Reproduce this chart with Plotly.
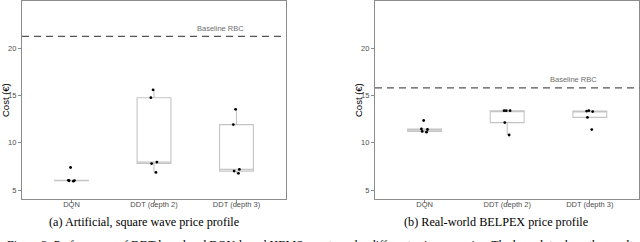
import plotly.graph_objects as go

categories = ["DQN", "DDT (depth 2)", "DDT (depth 3)"]

# (a) Artificial, square wave price profile
art_dqn = [5.93, 5.98, 6.00, 6.03, 7.38]
art_ddt2 = [6.86, 7.80, 7.95, 14.76, 15.60]
art_ddt3 = [6.76, 7.00, 7.18, 11.92, 13.53]
art_baseline = 21.24

# (b) Real-world BELPEX price profile
real_dqn = [11.12, 11.20, 11.40, 11.45, 12.35]
real_ddt2 = [10.82, 12.13, 13.39, 13.39, 13.39]
real_ddt3 = [11.39, 12.68, 13.30, 13.35, 13.40]
real_baseline = 15.81

y_ticks = [5, 10, 15, 20]
y_range = [4.05, 25.03]

captions = ["(a) Artificial, square wave price profile", "(b) Real-world BELPEX price profile"]
figure_text = ("Figure 3: Performance of DDT-based and DQN-based HEMS agents under different price scenarios. "
               "The box plots show the results of five runs.")

W, H = 640, 242
fig = go.Figure()

panels = [
    ("x", "y", [art_dqn, art_ddt2, art_ddt3], art_baseline),
    ("x2", "y2", [real_dqn, real_ddt2, real_ddt3], real_baseline),
]

for xa, ya, series, base in panels:
    for cat, vals in zip(categories, series):
        fig.add_trace(go.Box(
            x=[cat] * len(vals), y=vals, xaxis=xa, yaxis=ya,
            boxpoints="all", jitter=0.22, pointpos=0, width=0.41, whiskerwidth=0,
            quartilemethod="inclusive",
            fillcolor="rgba(255,255,255,0)",
            line=dict(color="#c4c4c4", width=1.1),
            marker=dict(color="black", size=2.8),
            showlegend=False, hoverinfo="y",
        ))
    fig.add_shape(type="line", xref=f"{xa} domain", yref=ya, x0=0, x1=1, y0=base, y1=base,
                  line=dict(color="#555555", width=1.3, dash="7px,5px"))
    fig.add_annotation(x=1.8, y=base + 0.85, xref=xa, yref=ya, text="Baseline RBC",
                       showarrow=False, font=dict(family="Liberation Sans", size=7.5, color="#6e6e6e"))

axis_common = dict(showline=True, mirror=True, linecolor="#8c8c8c", linewidth=1.2,
                   ticks="outside", ticklen=3, tickcolor="#8c8c8c", tickwidth=1,
                   tickfont=dict(family="Liberation Sans", size=7.5, color="#4d4d4d"),
                   showgrid=False, zeroline=False, automargin=False)

xcat = dict(type="category", categoryorder="array", categoryarray=categories,
            range=[-0.6, 2.6], ticklabelstandoff=-5)

ydom = [1 - 199 / H, 1 - 0.6 / H]
fig.update_layout(
    width=W, height=H, margin=dict(l=0, r=0, t=0, b=0),
    paper_bgcolor="white", plot_bgcolor="white",
    xaxis=dict(domain=[22 / W, 286 / W], anchor="y", **xcat, **axis_common),
    yaxis=dict(domain=ydom, range=y_range, tickvals=y_ticks, anchor="x", **axis_common),
    xaxis2=dict(domain=[375 / W, 639.4 / W], anchor="y2", **xcat, **axis_common),
    yaxis2=dict(domain=ydom, range=y_range, tickvals=y_ticks, anchor="x2", **axis_common),
)

for xp in (6, 359):
    fig.add_annotation(x=xp / W, y=1 - 100 / H, xref="paper", yref="paper", text="Cost (€)",
                       textangle=-90, showarrow=False, xanchor="center", yanchor="middle",
                       font=dict(family="Liberation Sans", size=9.5, color="black"))

for cx, cap in zip((144, 496), captions):
    fig.add_annotation(x=cx / W, y=1 - 221.5 / H, xref="paper", yref="paper", text=cap,
                       showarrow=False, xanchor="center", yanchor="middle",
                       font=dict(family="Liberation Serif", size=12.2, color="black"))

fig.add_annotation(x=5 / W, y=1 - 236 / H, xref="paper", yref="paper", text=figure_text,
                   showarrow=False, xanchor="left", yanchor="top",
                   font=dict(family="Liberation Serif", size=12, color="black"))

fig.write_html("out.html", config={"displayModeBar": False},
               post_script="document.body.style.margin='0px';document.body.style.overflow='hidden';")
